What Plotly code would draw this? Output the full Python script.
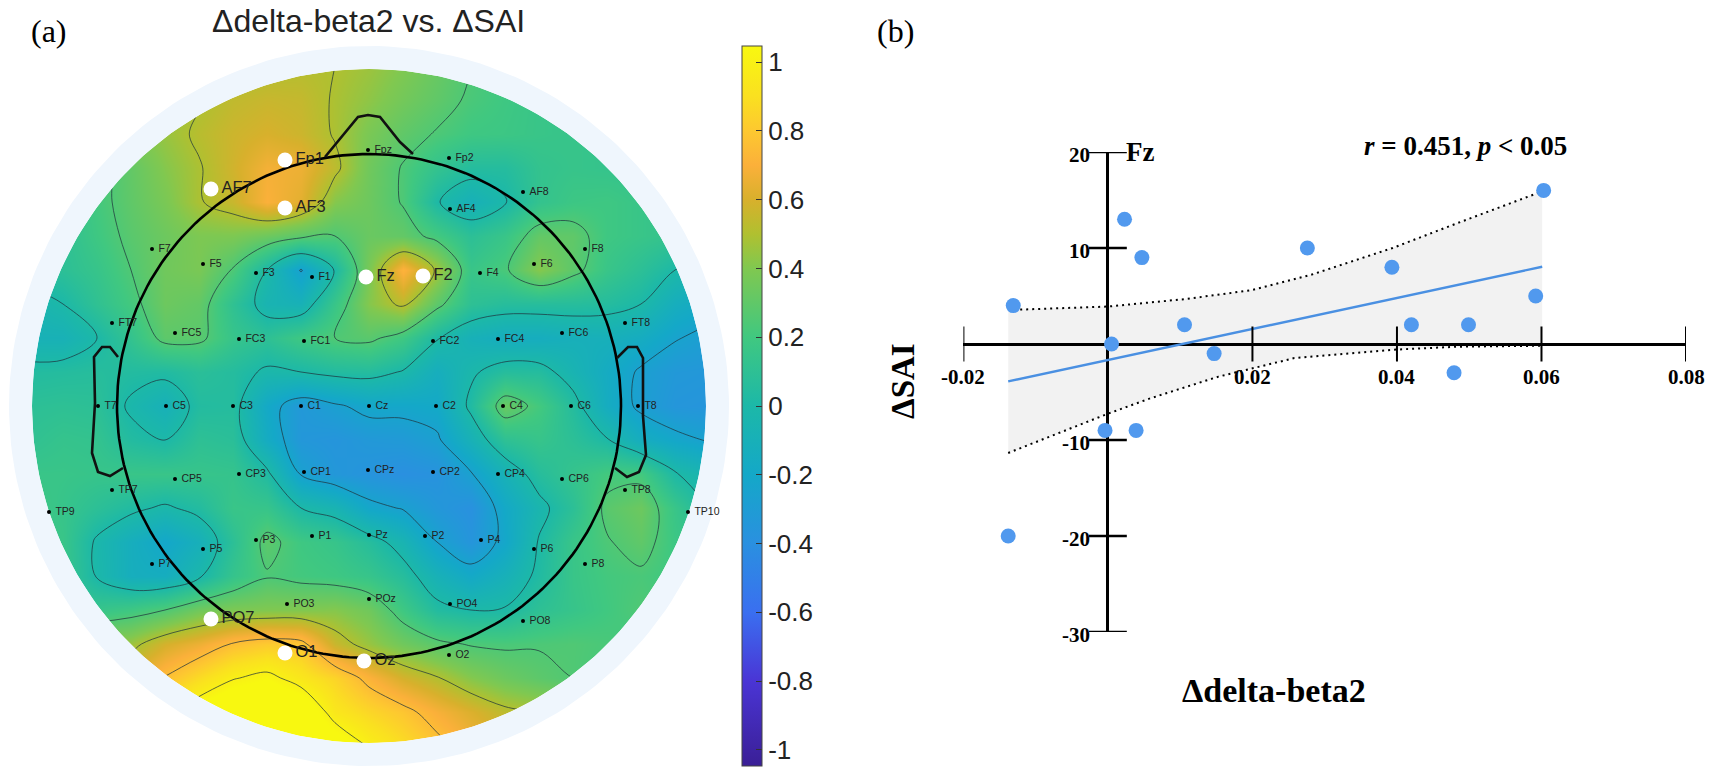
import numpy as np
import plotly.graph_objects as go

# scalp map, positions are in reference pixels
grid_x = [29, 63, 97, 131, 165, 199, 233, 267, 301, 335, 369, 403, 437, 471, 505, 539, 573, 607, 641, 675, 709]
grid_y = [66, 100, 134, 168, 202, 236, 270, 304, 338, 372, 406, 440, 474, 508, 542, 576, 610, 644, 678, 712, 746]
scalp_z = [
    [.19, .25, .31, .35, .41, .44, .47, .5, .51, .5, .46, .4, .33, .25, .19, .15, .13, .1, .09, .06, .06],
    [.16, .21, .28, .35, .42, .49, .54, .56, .55, .49, .43, .36, .3, .23, .19, .16, .15, .14, .13, .1, .09],
    [.13, .19, .28, .38, .45, .52, .57, .6, .57, .49, .38, .3, .24, .19, .18, .16, .15, .14, .13, .09, .06],
    [.09, .14, .21, .31, .41, .49, .58, .68, .66, .53, .35, .24, .13, .05, .05, .13, .15, .14, .13, .09, .06],
    [.06, .1, .21, .3, .38, .49, .56, .7, .63, .41, .34, .24, .01, -.1, -.01, .13, .18, .19, .16, .13, .09],
    [.04, .1, .19, .28, .34, .39, .39, .34, .28, .25, .33, .31, .21, .09, .16, .31, .3, .19, .16, .13, .09],
    [.06, .09, .15, .25, .35, .38, .24, .0, -.26, .01, .38, .72, .48, .16, .23, .41, .29, .16, .09, .0, -.06],
    [-.06, .0, .11, .21, .34, .31, .11, -.06, -.09, .16, .41, .53, .29, .1, .06, .06, .06, .05, .0, -.13, -.19],
    [-.09, -.09, .0, .13, .29, .28, .15, .1, .19, .25, .28, .19, .01, -.1, -.14, -.14, -.11, -.11, -.15, -.24, -.29],
    [.04, .05, .06, .04, .03, .08, .05, -.02, .0, .04, .05, -.01, -.13, -.02, .06, .05, -.06, -.16, -.27, -.33, -.34],
    [.09, .1, .09, -.02, -.1, .04, .05, -.19, -.33, -.27, -.21, -.21, -.19, .03, .33, .21, .05, -.15, -.28, -.35, -.36],
    [.11, .14, .13, .04, .0, .1, .08, -.16, -.34, -.36, -.33, -.32, -.27, -.09, .1, .15, .09, .01, -.14, -.21, -.26],
    [.16, .16, .15, .16, .16, .15, .14, .03, -.26, -.34, -.37, -.4, -.38, -.26, -.09, .06, .14, .21, .21, .01, -.06],
    [.19, .15, .09, .03, -.02, .04, .16, .15, .0, -.06, -.21, -.26, -.34, -.39, -.19, -.04, .09, .28, .34, .16, .0],
    [.19, .16, -.02, -.13, -.21, -.11, .09, .29, .19, .15, .06, -.06, -.25, -.36, -.21, .01, .16, .24, .3, .18, .13],
    [.21, .16, -.01, -.13, -.14, -.02, .14, .24, .21, .19, .15, .06, -.09, -.19, -.1, .03, .16, .21, .23, .19, .16],
    [.13, .13, .15, .19, .25, .35, .39, .4, .4, .41, .35, .19, .04, .0, .01, .1, .15, .2, .25, .21, .19],
    [.38, .4, .43, .46, .59, .66, .76, .81, .79, .56, .45, .35, .28, .24, .23, .24, .25, .23, .19, .19, .19],
    [.5, .53, .56, .63, .76, .88, .99, 1.04, .94, .85, .71, .59, .51, .41, .34, .29, .25, .21, .19, .19, .19],
    [.69, .71, .79, .88, .96, 1.1, 1.19, 1.22, 1.16, .94, .86, .79, .69, .61, .53, .49, .44, .38, .31, .31, .31],
    [.94, .94, 1.0, 1.06, 1.13, 1.2, 1.25, 1.25, 1.22, 1.13, .99, .89, .79, .69, .63, .56, .51, .46, .44, .44, .44],
]

small_names = ["Fpz", "Fp2", "AF8", "AF4", "F7", "F5", "F3", "F1", "F4", "F6", "F8",
               "FT7", "FC5", "FC3", "FC1", "FC2", "FC4", "FC6", "FT8",
               "T7", "C5", "C3", "C1", "Cz", "C2", "C4", "C6", "T8",
               "TP9", "TP7", "CP5", "CP3", "CP1", "CPz", "CP2", "CP4", "CP6", "TP8", "TP10",
               "P7", "P5", "P3", "P1", "Pz", "P2", "P4", "P6", "P8",
               "PO3", "POz", "PO4", "PO8", "O2"]
small_x = [368, 449, 523, 450, 152, 203, 256, 312, 480, 534, 585,
           112, 175, 239, 304, 433, 498, 562, 625,
           98, 166, 233, 301, 369, 436, 503, 571, 638,
           49, 112, 175, 239, 304, 368, 433, 498, 562, 625, 688,
           152, 203, 256, 312, 369, 425, 481, 534, 585,
           287, 369, 450, 523, 449]
small_y = [150, 158, 192, 209, 249, 264, 273, 277, 273, 264, 249,
           323, 333, 339, 341, 341, 339, 333, 323,
           406, 406, 406, 406, 406, 406, 406, 406, 406,
           512, 490, 479, 474, 472, 470, 472, 474, 479, 490, 512,
           564, 549, 540, 536, 535, 536, 540, 549, 564,
           604, 599, 604, 621, 655]

sig_names = ["Fp1", "AF7", "AF3", "Fz", "F2", "PO7", "O1", "Oz"]
sig_x = [285, 211, 285, 366, 423, 211, 285, 364]
sig_y = [160, 189, 208, 277, 276, 619, 653, 661]

nose_x = [325, 358, 368, 380, 400, 413]
nose_y = [157, 117, 115, 117, 142, 154]
ear_left_x = [118, 110, 102, 94, 95, 92, 98, 110, 123]
ear_left_y = [357, 347, 347, 357, 403, 453, 472, 476, 468]
ear_right_x = [617, 628, 637, 643, 643, 646, 639, 627, 615]
ear_right_y = [358, 347, 347, 358, 416, 455, 472, 477, 468]

cbar_ticks = [-1, -0.8, -0.6, -0.4, -0.2, 0, 0.2, 0.4, 0.6, 0.8, 1]
cbar_labels = ["-1", "-0.8", "-0.6", "-0.4", "-0.2", "0", "0.2", "0.4", "0.6", "0.8", "1"]
cbar_stops = [-1.047, -0.8, -0.6, -0.4, -0.2, 0, 0.2, 0.4, 0.5, 0.6, 0.7, 0.8, 0.9, 1.047]
cbar_colors = ["#3a1f96", "#4a35d5", "#3a6ff0", "#2a90e0", "#14a8c8", "#1cb8a8", "#40c880",
               "#80c850", "#b0c030", "#d8b02c", "#fbb03a", "#fdc830", "#fae020", "#f8f810"]

# scatter panel
delta_power = [-0.0131, 0.0023, 0.0047, 0.0276, 0.0393, 0.0603, 0.0592, 0.042, 0.0499, 0.0106,
               0.0005, 0.0147, 0.0479, -0.0004, 0.0039, -0.0138]
delta_sai = [4, 13, 9, 10, 8, 16, 5, 2, 2, 2, 0, -1, -3, -9, -9, -20]

fit_x = [-0.0138, 0.0601]
fit_y = [-3.9, 8.05]
upper_x = [-0.0138, 0, 0.0108, 0.0198, 0.0281, 0.0394, 0.0484, 0.0601]
upper_y = [3.54, 3.9, 4.69, 5.6, 7.2, 10, 12.6, 15.9]
lower_x = [-0.0138, 0, 0.0059, 0.0153, 0.0258, 0.0394, 0.0484, 0.0601]
lower_y = [-11.35, -7.26, -5.65, -3.4, -1.47, -0.6, -0.28, -0.18]

x_ticks = [-0.02, 0.02, 0.04, 0.06, 0.08]
x_labels = ["-0.02", "0.02", "0.04", "0.06", "0.08"]
y_ticks = [20, 10, -10, -20, -30]
y_labels = ["20", "10", "-10", "-20", "-30"]

W, H = 1713, 783
SERIF = "Liberation Serif"
SANS = "Liberation Sans"
HEAD_CX, HEAD_CY = 369, 406


def fx(px):
    return px / W


def fy(py):
    return 1 - py / H


def ring(r_in, r_out):
    # one keyhole polygon, so the hole stays open
    t = np.linspace(0, 2 * np.pi, 241)
    xs = np.concatenate([r_out * np.cos(t), r_in * np.cos(t[::-1])]) + HEAD_CX
    ys = np.concatenate([r_out * np.sin(t), r_in * np.sin(t[::-1])]) + HEAD_CY
    return xs, ys


colorscale = [[(v + 1.047) / 2.094, c] for v, c in zip(cbar_stops, cbar_colors)]

fig = go.Figure()

fig.add_trace(go.Heatmap(
    x=grid_x, y=grid_y, z=scalp_z,
    zmin=-1.047, zmax=1.047, zauto=False, zsmooth="best",
    colorscale=colorscale,
    colorbar=dict(
        x=fx(742), xanchor="left", y=fy(406), yanchor="middle",
        thickness=20, thicknessmode="pixels", len=720, lenmode="pixels",
        tickvals=cbar_ticks, ticktext=cbar_labels, ticks="inside", ticklen=6,
        tickcolor="#333333", outlinecolor="#444444", outlinewidth=1,
        tickfont=dict(family=SANS, size=26, color="#222222"),
        xpad=0, ypad=0,
    ),
    hoverinfo="skip",
))
fig.add_trace(go.Contour(
    x=grid_x, y=grid_y, z=scalp_z, showscale=False,
    contours=dict(coloring="none", start=-0.25, end=1.0, size=0.25),
    line=dict(color="rgba(30,50,60,0.8)", width=0.9, smoothing=1),
    hoverinfo="skip",
))

# white mask and pale halo around the scalp disc
for r_in, r_out, col in [(337, 540, "white"), (337, 360, "#eff6fd")]:
    rx, ry = ring(r_in, r_out)
    fig.add_trace(go.Scatter(x=rx, y=ry, mode="lines", fill="toself", fillcolor=col,
                             line=dict(width=0), hoverinfo="skip"))

t_head = np.linspace(0, 2 * np.pi, 241)
fig.add_trace(go.Scatter(x=252 * np.cos(t_head) + HEAD_CX, y=252 * np.sin(t_head) + HEAD_CY,
                         mode="lines", line=dict(color="black", width=2.6)))
for hx, hy in [(nose_x, nose_y), (ear_left_x, ear_left_y), (ear_right_x, ear_right_y)]:
    fig.add_trace(go.Scatter(x=hx, y=hy, mode="lines", line=dict(color="#111111", width=2.6)))

fig.add_trace(go.Scatter(x=small_x, y=small_y, text=small_names, mode="markers+text",
                         textposition="middle right", texttemplate="\u00a0%{text}",
                         marker=dict(color="black", size=4),
                         textfont=dict(family=SANS, size=10.5, color="#222222")))
fig.add_trace(go.Scatter(x=sig_x, y=sig_y, text=sig_names, mode="markers+text",
                         textposition="middle right",
                         marker=dict(color="white", size=15),
                         textfont=dict(family=SANS, size=16.5, color="#222222")))

# scatter panel, CI band first
fig.add_trace(go.Scatter(x=upper_x + lower_x[::-1], y=upper_y + lower_y[::-1],
                         xaxis="x2", yaxis="y2", mode="lines", fill="toself",
                         fillcolor="rgba(0,0,0,0.05)", line=dict(width=0)))
fig.add_trace(go.Scatter(x=upper_x, y=upper_y, xaxis="x2", yaxis="y2", mode="lines",
                         line=dict(color="black", width=2, dash="2px,4px")))
fig.add_trace(go.Scatter(x=lower_x, y=lower_y, xaxis="x2", yaxis="y2", mode="lines",
                         line=dict(color="black", width=2, dash="2px,4px")))
fig.add_trace(go.Scatter(x=fit_x, y=fit_y, xaxis="x2", yaxis="y2", mode="lines",
                         line=dict(color="#4a90e2", width=2.4)))
fig.add_trace(go.Scatter(x=x_ticks, y=[0] * len(x_ticks), xaxis="x2", yaxis="y2", mode="markers",
                         marker=dict(symbol="line-ns", size=25, line=dict(color="black", width=2))))
fig.add_trace(go.Scatter(x=[0] * len(y_ticks), y=y_ticks, xaxis="x2", yaxis="y2", mode="markers",
                         marker=dict(symbol="line-ew", size=27, line=dict(color="black", width=2.5))))
fig.add_trace(go.Scatter(x=delta_power, y=delta_sai, xaxis="x2", yaxis="y2", mode="markers",
                         marker=dict(color="#5199ee", size=15)))

annotations = []
for v, lab in zip(x_ticks, x_labels):
    annotations.append(dict(x=v, y=0, xref="x2", yref="y2", text=lab, showarrow=False, yshift=-33,
                            font=dict(family=SERIF, size=21, color="black", weight="bold")))
for v, lab in zip(y_ticks, y_labels):
    annotations.append(dict(x=0, y=v, xref="x2", yref="y2", text=lab, showarrow=False,
                            xanchor="right", xshift=-16, yshift=-3,
                            font=dict(family=SERIF, size=21, color="black", weight="bold")))


def page_text(px, py, text, family, size, color="black", **kw):
    annotations.append(dict(x=fx(px), y=fy(py), xref="paper", yref="paper", text=text,
                            xanchor="center", yanchor="middle", showarrow=False,
                            font=dict(family=family, size=size, color=color), **kw))


page_text(49, 31, "(a)", SERIF, 32)
page_text(895, 31, "(b)", SERIF, 32)
page_text(368, 21, "Δdelta-beta2 vs. ΔSAI", SANS, 32, color="#222222")
page_text(1140, 152, "<b>Fz</b>", SERIF, 27)
page_text(1465, 146, "<b><i>r</i> = 0.451, <i>p</i> &lt; 0.05</b>", SERIF, 27)
page_text(1274, 690, "<b>Δdelta-beta2</b>", SERIF, 34)
page_text(903, 381, "<b>ΔSAI</b>", SERIF, 33, textangle=-90)

fig.update_layout(
    width=W, height=H, autosize=False,
    margin=dict(l=0, r=0, t=0, b=0),
    paper_bgcolor="white", plot_bgcolor="rgba(0,0,0,0)",
    showlegend=False,
    annotations=annotations,
    xaxis=dict(domain=[0, fx(730)], range=[0, 730], visible=False),
    yaxis=dict(domain=[0, 1], range=[H, 0], visible=False),
    xaxis2=dict(domain=[fx(963.4), fx(1686)], range=[-0.02, 0.08], anchor="y2",
                showgrid=False, showticklabels=False, ticks="",
                zeroline=True, zerolinecolor="black", zerolinewidth=2.6),
    yaxis2=dict(domain=[fy(632), fy(152)], range=[-30, 20], anchor="x2",
                showgrid=False, showticklabels=False, ticks="",
                zeroline=True, zerolinecolor="black", zerolinewidth=2.6),
)

# drop the page's default body margin so the canvas fills the window
fig.write_html("out.html", config=dict(displayModeBar=False),
               post_script="document.body.style.margin='0';document.documentElement.style.overflow='hidden';")
